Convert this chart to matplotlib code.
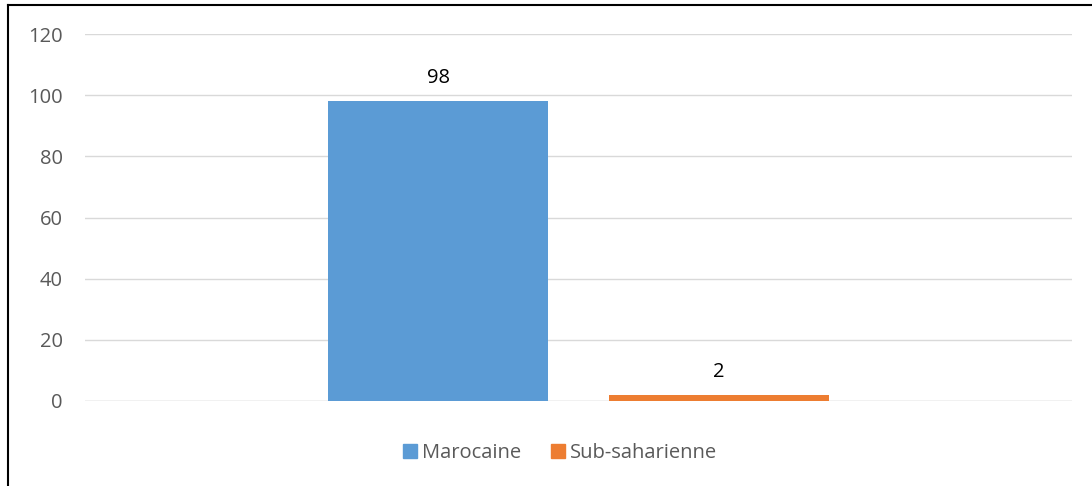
import matplotlib.pyplot as plt
from matplotlib.lines import Line2D
from matplotlib.patches import Patch

series = ["Marocaine", "Sub-saharienne"]
values = [98, 2]
colors = ["#5B9BD5", "#ED7D31"]
yticks = [0, 20, 40, 60, 80, 100, 120]

plt.rcParams["font.family"] = ["Open Sans", "DejaVu Sans"]

fig = plt.figure(figsize=(10.92, 4.86), dpi=100)
ax = fig.add_axes([0.0778, 0.1749, 0.9039, 0.7551])

width = 0.223
offsets = [-0.142, 0.142]
for name, val, col, off in zip(series, values, colors, offsets):
    ax.bar(off, val, width=width, color=col, label=name, zorder=2)
    ax.text(off, val + 4.3, str(val), ha="center", va="bottom",
            fontsize=14.5, color="#000000")

ax.set_xlim(-0.5, 0.5)
ax.set_ylim(0, 120)
ax.set_yticks(yticks)
ax.set_xticks([])
ax.grid(axis="y", color="#D9D9D9", linewidth=1, zorder=0)
ax.tick_params(axis="y", length=0, pad=16, labelsize=14.5, labelcolor="#595959")
for s in ax.spines.values():
    s.set_visible(False)
ax.axhline(0, color="#D9D9D9", linewidth=1, zorder=1)

handles = [Patch(color=c, label=n) for n, c in zip(series, colors)]
fig.legend(handles=handles, loc="center", bbox_to_anchor=(0.513, 0.068),
           ncol=2, frameon=False, fontsize=14.5, labelcolor="#595959",
           handlelength=0.7, handleheight=0.7, handletextpad=0.25,
           columnspacing=1.5)

# outer border (top and left edges visible in the crop)
fig.add_artist(Line2D([0.007, 1.0], [0.990, 0.990], color="black",
                      linewidth=1.5, transform=fig.transFigure))
fig.add_artist(Line2D([0.007, 0.007], [0.0, 0.990], color="black",
                      linewidth=1.5, transform=fig.transFigure))

fig.savefig("out.png", dpi=100)
